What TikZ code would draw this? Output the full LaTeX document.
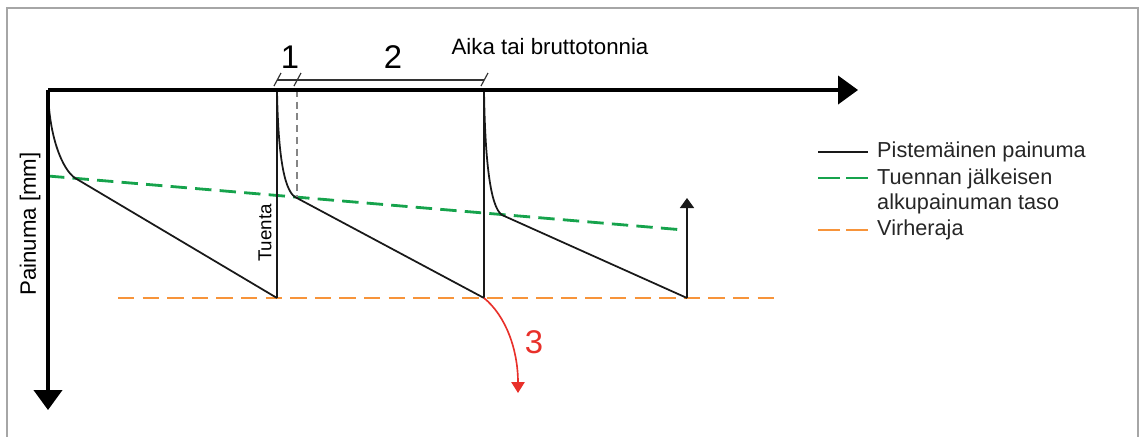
\documentclass[tikz,border=0pt]{standalone}
\usepackage{fontspec}
\setmainfont{Liberation Sans}
\usetikzlibrary{arrows.meta}
\definecolor{lvlGRN}{HTML}{16A34C}
\definecolor{limORG}{HTML}{F7943A}
\definecolor{failRED}{HTML}{E8302A}
\definecolor{frmGRY}{HTML}{A6A6A6}
\newcommand{\pnmfont}[1]{\fontsize{#1}{#1}\selectfont}

\begin{document}
\begin{tikzpicture}[x=0.03cm, y=-0.03cm,
  axis/.style={line width=2.6pt, -{Triangle[length=0.6cm, width=0.85cm]}},
  thn/.style={line width=1.5pt, black!90},
  lvl/.style={line width=2.4pt, lvlGRN, dash pattern=on 14pt off 7pt},
  lim/.style={line width=2.4pt, limORG, dash pattern=on 14pt off 7pt},
  lbl/.style={font=\pnmfont{19}, inner sep=0pt},
  big/.style={font=\pnmfont{28}, inner sep=0pt}]
\useasboundingbox (0,0) rectangle (1139,436);
% frame
\draw[frmGRY, line width=1.2pt] (7,450) -- (7,8) -- (1138,8) -- (1138,450);
% points
\coordinate (o) at (48,90);
\coordinate (xend) at (858,90);
\coordinate (yend) at (48,410);
\coordinate (t1) at (277,90);
\coordinate (t2) at (484,90);
\coordinate (b1) at (277,298);
\coordinate (b2) at (484,298);
\coordinate (b3) at (687,298);
\coordinate (a3) at (687,198);
\coordinate (r3) at (518,393);
% level lines
\draw[lvl] (48,176) coordinate (g0) -- (684,230) coordinate (g1);
\draw[lim] (118,298) coordinate (l0) -- (776,298) coordinate (l1);
% sawtooth
\foreach \sx/\kx/\ky/\ex in {48/75/178/277, 277/295/197/484, 484/502/215/687}
  {\draw[thn] (\sx,90) .. controls (\sx+1,{90+(\ky-90)*0.55}) and (\kx-12,\ky-8) .. (\kx,\ky) -- (\ex,298);}
\draw[thn] (b1) -- (t1);
\draw[thn] (b2) -- (t2);
\draw[thn, -{Triangle[length=0.3cm, width=0.42cm]}] (b3) -- (a3);
\draw[frmGRY!80!black, line width=1pt, dash pattern=on 6pt off 4pt] (297,90) -- (297,197);
% fail
\draw[failRED, line width=1.4pt, -{Triangle[length=0.33cm, width=0.4cm]}] (b2) .. controls (506,316) and (518,350) .. (r3);
\node[big, text=failRED] (n3) at (534,342) {3};
% axes
\draw[axis] (o) -- (xend);
\draw[axis] (o) -- (yend);
\node[lbl, rotate=90] (ylab) at (30,224) {Painuma [mm]};
\node[lbl] (xlab) at (550,47) {Aika tai bruttotonnia};
\node[font=\pnmfont{16}, inner sep=0pt, rotate=90] (tuenta) at (265,233) {Tuenta};
% spans 1 and 2
\draw[black!80, line width=1pt] (277,80) coordinate (d0) -- (484,80) coordinate (d1);
\foreach \x in {277,297,484}
  {\draw[black!80, line width=1pt] (\x-3,86) -- (\x+4,73);}
\node[big] (n1) at (290,57) {1};
\node[big] (n2) at (393,57) {2};
% legend
\draw[thn] (818,152) coordinate (k0) -- (868,152) coordinate (k1);
\draw[lvl, dash pattern=on 19pt off 5pt] (818,178) coordinate (k2) -- (868,178) coordinate (k3);
\draw[lim, dash pattern=on 19pt off 5pt] (818,230) coordinate (k4) -- (868,230) coordinate (k5);
\node[lbl, font=\pnmfont{18.5}, text=black!85, anchor=west] (lg1) at (877,152) {Pistemäinen painuma};
\node[lbl, font=\fontsize{18.5}{21.3}\selectfont, text=black!85, anchor=west, align=left] (lg2) at (877,191) {Tuennan jälkeisen\\alkupainuman taso};
\node[lbl, font=\pnmfont{18.5}, text=black!85, anchor=west] (lg3) at (877,230) {Virheraja};
\end{tikzpicture}
\end{document}
